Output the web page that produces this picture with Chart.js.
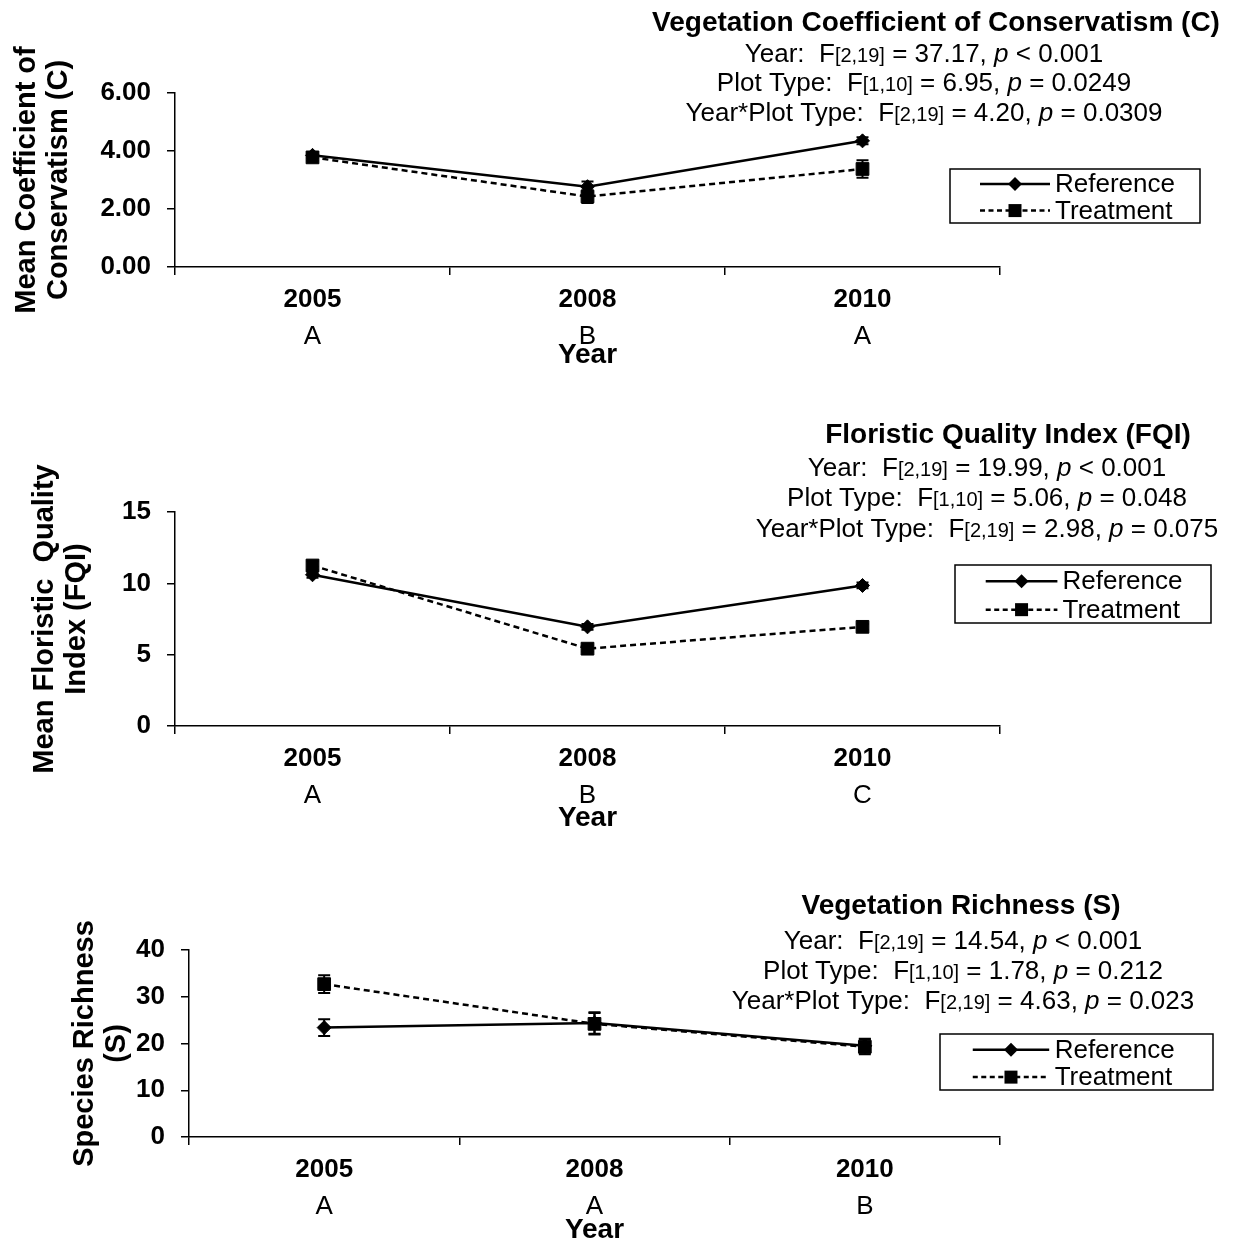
<!DOCTYPE html>
<html>
<head>
<meta charset="utf-8">
<script src="https://cdn.jsdelivr.net/npm/chart.js@4.4.1/dist/chart.umd.min.js"></script>
<style>
    body { margin: 0; background: #fff; }
    #wrap { position: relative; width: 1234px; height: 1249px; background: #fff; }
    #wrap canvas { position: absolute; left: 0; }
</style>
</head>
<body>
<div id="wrap">
    <canvas id="chartC" width="1234" height="380" style="top:0px"></canvas>
    <canvas id="chartFQI" width="1234" height="445" style="top:400px"></canvas>
    <canvas id="chartS" width="1234" height="389" style="top:860px"></canvas>
</div>
<script>
// ============================================
// Data
// ============================================

const YEARS = ["2005", "2008", "2010"];

// Coefficient of Conservatism (C)
const C_REF = [3.85, 2.77, 4.35];
const C_REF_SE = [0.10, 0.18, 0.12];
const C_TRT = [3.78, 2.43, 3.38];
const C_TRT_SE = [0.12, 0.22, 0.30];
const C_LETTERS = ["A", "B", "A"];
const C_YTICKS = [0, 6, 2];
const C_STATS = [
    ["Year:", "[2,19]", "37.17", "<", "0.001"],
    ["Plot Type:", "[1,10]", "6.95", "=", "0.0249"],
    ["Year*Plot Type:", "[2,19]", "4.20", "=", "0.0309"],
];

// Floristic Quality Index (FQI)
const FQI_REF = [10.6, 6.95, 9.85];
const FQI_REF_SE = [0.2, 0.2, 0.2];
const FQI_TRT = [11.25, 5.42, 6.95];
const FQI_TRT_SE = [0.3, 0.2, 0.2];
const FQI_LETTERS = ["A", "B", "C"];
const FQI_YTICKS = [0, 15, 5];
const FQI_STATS = [
    ["Year:", "[2,19]", "19.99", "<", "0.001"],
    ["Plot Type:", "[1,10]", "5.06", "=", "0.048"],
    ["Year*Plot Type:", "[2,19]", "2.98", "=", "0.075"],
];

// Vegetation Richness (S)
const S_REF = [23.4, 24.4, 19.5];
const S_REF_SE = [1.8, 2.3, 1.5];
const S_TRT = [32.7, 24.2, 19.3];
const S_TRT_SE = [1.9, 2.3, 1.6];
const S_LETTERS = ["A", "A", "B"];
const S_YTICKS = [0, 40, 10];
const S_STATS = [
    ["Year:", "[2,19]", "14.54", "<", "0.001"],
    ["Plot Type:", "[1,10]", "1.78", "=", "0.212"],
    ["Year*Plot Type:", "[2,19]", "4.63", "=", "0.023"],
];

const SERIES_NAMES = ["Reference", "Treatment"];

// ============================================
// Drawing helpers
// ============================================

const FONT = '"Liberation Sans", Arial, sans-serif';

function drawMarker(ctx, style, x, y, r) {
    ctx.beginPath();
    if (style === "rectRot") {
        ctx.moveTo(x, y - r);
        ctx.lineTo(x + r, y);
        ctx.lineTo(x, y + r);
        ctx.lineTo(x - r, y);
    } else {
        ctx.rect(x - r, y - r, 2 * r, 2 * r);
    }
    ctx.closePath();
    ctx.fill();
}

function drawStatLine(ctx, cx, baseY, row) {
    const [label, df, f, op, p] = row;
    const parts = [
        { t: label + "  F", f: `26px ${FONT}` },
        { t: df, f: `20px ${FONT}` },
        { t: " = " + f + ", ", f: `26px ${FONT}` },
        { t: "p", f: `italic 26px ${FONT}` },
        { t: " " + op + " " + p, f: `26px ${FONT}` },
    ];
    let total = 0;
    parts.forEach((s) => {
        ctx.font = s.f;
        total += ctx.measureText(s.t).width;
    });
    let x = cx - total / 2;
    ctx.textAlign = "left";
    ctx.textBaseline = "alphabetic";
    parts.forEach((s) => {
        ctx.font = s.f;
        ctx.fillText(s.t, x, baseY);
        x += ctx.measureText(s.t).width;
    });
}

const panelDecor = {
    id: "panelDecor",
    afterDatasetsDraw(chart, args, opts) {
        const ctx = chart.ctx;
        const yScale = chart.scales.y;
        ctx.save();
        ctx.strokeStyle = "#000";
        ctx.lineWidth = 2;
        chart.data.datasets.forEach((ds, i) => {
            const se = opts.errors[i];
            chart.getDatasetMeta(i).data.forEach((pt, j) => {
                const top = yScale.getPixelForValue(ds.data[j] + se[j]);
                const bot = yScale.getPixelForValue(ds.data[j] - se[j]);
                ctx.beginPath();
                ctx.moveTo(pt.x, top);
                ctx.lineTo(pt.x, bot);
                ctx.moveTo(pt.x - 6, top);
                ctx.lineTo(pt.x + 6, top);
                ctx.moveTo(pt.x - 6, bot);
                ctx.lineTo(pt.x + 6, bot);
                ctx.stroke();
            });
        });
        ctx.restore();
    },
    afterDraw(chart, args, opts) {
        const ctx = chart.ctx;
        const xScale = chart.scales.x;
        ctx.save();
        ctx.fillStyle = "#000";
        ctx.strokeStyle = "#000";

        // heading + anova lines
        ctx.font = `bold 28px ${FONT}`;
        ctx.textAlign = "center";
        ctx.textBaseline = "middle";
        ctx.fillText(opts.title, opts.titleX, opts.titleY);
        opts.stats.forEach((row, i) => {
            drawStatLine(ctx, opts.statsX, opts.statsY[i] + 9, row);
        });

        // letters under the years
        ctx.font = `26px ${FONT}`;
        ctx.textAlign = "center";
        ctx.textBaseline = "middle";
        opts.letters.forEach((t, j) => {
            ctx.fillText(t, xScale.getPixelForValue(j), xScale.top + 70);
        });

        // legend
        const L = opts.legend;
        ctx.lineWidth = 1.5;
        ctx.strokeRect(L.x, L.y, L.w, L.h);
        const rows = [
            { dash: [], style: "rectRot", r: 7, fy: 0.28 },
            { dash: [5, 3.5], style: "rect", r: 6.5, fy: 0.77 },
        ];
        rows.forEach((row, i) => {
            const ry = L.y + L.h * row.fy;
            ctx.lineWidth = 2.5;
            ctx.setLineDash(row.dash);
            ctx.beginPath();
            ctx.moveTo(L.x + L.w * 0.12, ry);
            ctx.lineTo(L.x + L.w * 0.40, ry);
            ctx.stroke();
            ctx.setLineDash([]);
            drawMarker(ctx, row.style, L.x + L.w * 0.26, ry, row.r);
            ctx.font = `26px ${FONT}`;
            ctx.textAlign = "left";
            ctx.textBaseline = "middle";
            ctx.fillText(SERIES_NAMES[i], L.x + L.w * 0.42, ry + 1);
        });
        ctx.restore();
    },
};

// ============================================
// Panels
// ============================================

function buildPanel(canvasId, p) {
    const canvas = document.getElementById(canvasId);
    const H = canvas.height;
    return new Chart(canvas, {
        type: "line",
        data: {
            labels: YEARS,
            datasets: [
                {
                    label: SERIES_NAMES[0],
                    data: p.ref,
                    borderColor: "#000",
                    backgroundColor: "#000",
                    borderWidth: 2.5,
                    pointStyle: "rectRot",
                    pointRadius: 7,
                    pointBorderWidth: 1,
                    tension: 0,
                    order: 1,
                },
                {
                    label: SERIES_NAMES[1],
                    data: p.trt,
                    borderColor: "#000",
                    backgroundColor: "#000",
                    borderWidth: 2.5,
                    borderDash: [6, 4],
                    pointStyle: "rect",
                    pointRadius: 9,
                    pointBorderWidth: 1,
                    tension: 0,
                    order: 0,
                },
            ],
        },
        options: {
            responsive: false,
            animation: false,
            devicePixelRatio: 1,
            layout: { padding: { top: p.top, right: 234, bottom: 0, left: 0 } },
            plugins: {
                legend: { display: false },
                tooltip: { enabled: false },
                panelDecor: {
                    title: p.title,
                    titleX: p.titleX,
                    titleY: p.titleY,
                    statsX: p.statsX,
                    statsY: p.statsY,
                    stats: p.stats,
                    letters: p.letters,
                    legend: p.legend,
                    errors: [p.refSe, p.trtSe],
                },
            },
            scales: {
                x: {
                    type: "category",
                    offset: true,
                    afterFit: (s) => { s.height = H - p.axisY; },
                    grid: {
                        display: true,
                        drawOnChartArea: false,
                        offset: true,
                        tickLength: 8,
                        color: "#000",
                        lineWidth: 1.5,
                    },
                    border: { color: "#000", width: 1.5 },
                    ticks: {
                        color: "#000",
                        padding: 9,
                        maxRotation: 0,
                        font: { family: FONT, size: 26, weight: "bold" },
                    },
                    title: {
                        display: true,
                        text: "Year",
                        color: "#000",
                        padding: { top: 0, bottom: p.xTitlePad },
                        font: { family: FONT, size: 28, weight: "bold", lineHeight: 1.2 },
                    },
                },
                y: {
                    min: p.yTicks[0],
                    max: p.yTicks[1],
                    afterFit: (s) => { s.width = p.axisX; },
                    grid: {
                        drawOnChartArea: false,
                        tickLength: 8,
                        color: "#000",
                        lineWidth: 1.5,
                    },
                    border: { color: "#000", width: 1.5 },
                    ticks: {
                        stepSize: p.yTicks[2],
                        color: "#000",
                        padding: 16,
                        font: { family: FONT, size: 26, weight: "bold" },
                        callback: (v) => v.toFixed(p.decimals),
                    },
                    title: {
                        display: true,
                        text: p.yTitle,
                        color: "#000",
                        padding: { top: p.yTitlePad, bottom: 0 },
                        font: { family: FONT, size: 29, weight: "bold", lineHeight: 1.1 },
                    },
                },
            },
        },
        plugins: [panelDecor],
    });
}

// ============================================
// Init
// ============================================

buildPanel("chartC", {
    ref: C_REF, refSe: C_REF_SE, trt: C_TRT, trtSe: C_TRT_SE,
    letters: C_LETTERS, yTicks: C_YTICKS, stats: C_STATS, decimals: 2,
    title: "Vegetation Coefficient of Conservatism (C)",
    yTitle: ["Mean Coefficient of", "Conservatism (C)"],
    top: 93, axisY: 267, axisX: 175, xTitlePad: 8, yTitlePad: 11,
    titleX: 936, titleY: 23, statsX: 924, statsY: [53, 82, 112],
    legend: { x: 950, y: 169, w: 250, h: 54 },
});

buildPanel("chartFQI", {
    ref: FQI_REF, refSe: FQI_REF_SE, trt: FQI_TRT, trtSe: FQI_TRT_SE,
    letters: FQI_LETTERS, yTicks: FQI_YTICKS, stats: FQI_STATS, decimals: 0,
    title: "Floristic Quality Index (FQI)",
    yTitle: ["Mean Floristic  Quality", "Index (FQI)"],
    top: 112, axisY: 326, axisX: 175, xTitlePad: 10, yTitlePad: 29,
    titleX: 1008, titleY: 35, statsX: 987, statsY: [67, 97, 128],
    legend: { x: 955, y: 165, w: 256, h: 58 },
});

buildPanel("chartS", {
    ref: S_REF, refSe: S_REF_SE, trt: S_TRT, trtSe: S_TRT_SE,
    letters: S_LETTERS, yTicks: S_YTICKS, stats: S_STATS, decimals: 0,
    title: "Vegetation Richness (S)",
    yTitle: ["Species Richness", "(S)"],
    top: 90, axisY: 277, axisX: 189, xTitlePad: 2, yTitlePad: 69,
    titleX: 961, titleY: 46, statsX: 963, statsY: [80, 110, 140],
    legend: { x: 940, y: 174, w: 273, h: 56 },
});
</script>
</body>
</html>
